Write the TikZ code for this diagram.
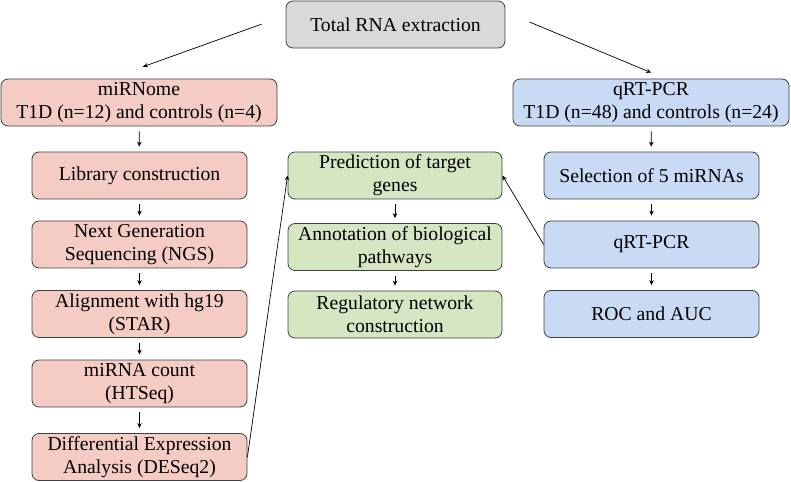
\documentclass[tikz,border=0pt]{standalone}
\usepackage{fontspec}
\setmainfont{Liberation Serif}
\usetikzlibrary{arrows.meta}

\definecolor{rnagray}{HTML}{D9D9D9}
\definecolor{seqpink}{HTML}{F4CCC3}
\definecolor{pathgreen}{HTML}{D5E6C3}
\definecolor{pcrblue}{HTML}{C9DAF4}

\begin{document}
\begin{tikzpicture}[x = 1bp, y = -1bp,
    stage/.style = {draw = black!75, line width = 0.8bp, rounded corners = 7bp,
        minimum height = 47bp, inner sep = 0pt, align = center,
        font = \rmfamily\fontsize{19.7bp}{23.3bp}\selectfont},
    flow/.style = {line width = 0.7bp, -{Stealth[length = 5bp, width = 4.5bp]}},
    step down/.style = {flow, shorten < = 5bp, shorten > = 5bp}]
\useasboundingbox (0,0) rectangle (791,482);

% extraction
\node[stage, fill = rnagray, minimum width = 219bp] (total) at (395.5,24.5) {Total RNA extraction};

% sequencing branch
\node[stage, fill = seqpink, minimum width = 276bp] (mirnome) at (139,102.5) {miRNome\\T1D (n=12) and controls (n=4)};
\node[stage, fill = seqpink, minimum width = 215bp] (library) at (139.5,175.5) {Library construction};
\node[stage, fill = seqpink, minimum width = 215bp] (ngs) at (139.5,244.5) {Next Generation\\Sequencing (NGS)};
\node[stage, fill = seqpink, minimum width = 215bp] (align) at (139.5,314) {Alignment with hg19\\(STAR)};
\node[stage, fill = seqpink, minimum width = 215bp] (count) at (139.5,383.5) {miRNA count\\(HTSeq)};
\node[stage, fill = seqpink, minimum width = 215bp] (deseq) at (139.5,457) {Differential Expression\\Analysis (DESeq2)};

% target genes
\node[stage, fill = pathgreen, minimum width = 214bp] (predict) at (395,175.5) {Prediction of target\\genes};
\node[stage, fill = pathgreen, minimum width = 214bp] (annot) at (395,247) {Annotation of biological\\pathways};
\node[stage, fill = pathgreen, minimum width = 214bp] (network) at (395,314.5) {Regulatory network\\construction};

% validation branch
\node[stage, fill = pcrblue, minimum width = 276bp] (cohort) at (651,102.5) {qRT-PCR\\T1D (n=48) and controls (n=24)};
\node[stage, fill = pcrblue, minimum width = 215bp] (select) at (651.5,175.5) {Selection of 5 miRNAs};
\node[stage, fill = pcrblue, minimum width = 215bp] (qpcr) at (651.5,244.5) {qRT-PCR};
\node[stage, fill = pcrblue, minimum width = 215bp] (roc) at (651.5,314) {ROC and AUC};

\draw[flow, shorten < = 25.5bp, shorten > = 35bp] ([yshift = 9bp]total.west) -- ([xshift = -29bp]mirnome.north);
\draw[flow, shorten < = 26bp, shorten > = 15.5bp] ([yshift = 12.5bp]total.east) -- ([xshift = 14.5bp]cohort.north);

\draw[step down] (mirnome) -- (library);
\draw[step down] (library) -- (ngs);
\draw[step down] (ngs) -- (align);
\draw[step down] (align) -- (count);
\draw[step down] (count) -- (deseq);

\draw[step down] (predict) -- (annot);
\draw[step down] (annot) -- (network);

\draw[step down] (cohort) -- (select);
\draw[step down] (select) -- (qpcr);
\draw[step down] (qpcr) -- (roc);

\draw[flow] (deseq.east) -- (predict.west);
\draw[flow] (qpcr.west) -- (predict.east);
\end{tikzpicture}
\end{document}
